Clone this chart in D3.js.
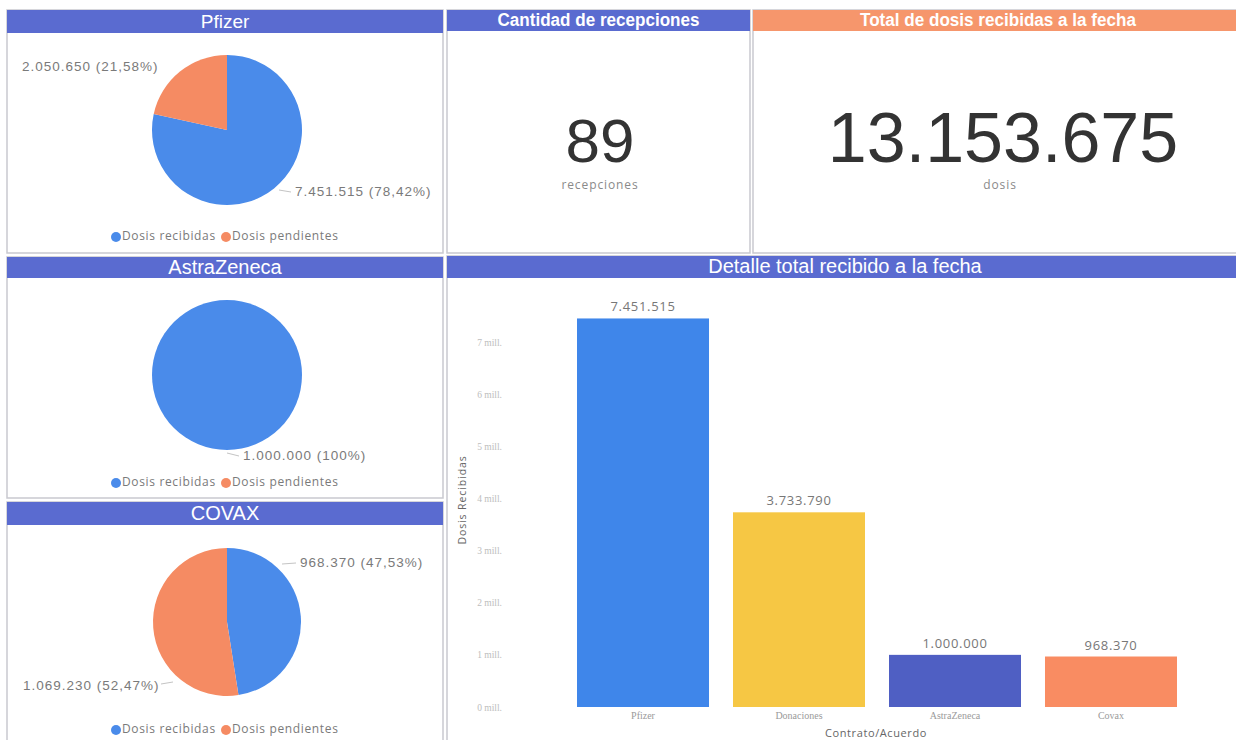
<!DOCTYPE html>
<html><head><meta charset="utf-8">
<script src="https://cdn.jsdelivr.net/npm/d3@7"></script>
<style>
html,body{margin:0;padding:0;background:#fff;}
svg{display:block;font-family:"Liberation Sans",Arial,sans-serif;}
</style></head>
<body><svg id="c" width="1236" height="740"></svg>
<script>
// ---- data ----
const pieCategories = ["Dosis recibidas", "Dosis pendientes"];
const pfizerValues = [7451515, 2050650];
const astraValues = [1000000, 0];
const covaxValues = [968370, 1069230];
const pfizerLabels = ["7.451.515 (78,42%)", "2.050.650 (21,58%)"];
const astraLabels = ["1.000.000 (100%)", ""];
const covaxLabels = ["968.370 (47,53%)", "1.069.230 (52,47%)"];
const recepciones = 89;
const totalDosis = 13153675;
const barCategories = ["Pfizer", "Donaciones", "AstraZeneca", "Covax"];
const barValues = [7451515, 3733790, 1000000, 968370];
const barLabels = ["7.451.515", "3.733.790", "1.000.000", "968.370"];
const yTicks = [0, 1000000, 2000000, 3000000, 4000000, 5000000, 6000000, 7000000];

const svg = d3.select("#c");
const BLUE_H = "#5a6bd0", ORANGE_H = "#f6966c";
const pieColor = d3.scaleOrdinal().domain(pieCategories).range(["#4a8bea", "#f58b63"]);
const barColor = d3.scaleOrdinal().domain(barCategories).range(["#3f86ea", "#f6c744", "#4f5fc3", "#f98c62"]);
const fmt = d3.formatLocale({decimal: ",", thousands: ".", grouping: [3], currency: ["", ""]}).format(",d");

function panel(x, y, w, h, hh, title, col, opts) {
  opts = opts || {};
  const g = svg.append("g");
  g.append("rect").attr("x", x).attr("y", y).attr("width", w).attr("height", h)
    .attr("fill", "#fff").attr("stroke", "#c9c9cf").attr("stroke-width", 1.5);
  g.append("rect").attr("x", x).attr("y", y).attr("width", w).attr("height", hh).attr("fill", col);
  const t = g.append("text").attr("x", x + w / 2).attr("y", y + hh / 2 + 1).attr("text-anchor", "middle")
    .attr("dominant-baseline", "middle").attr("fill", "#fff")
    .style("font-size", opts.fs || "20px")
    .style("font-weight", opts.fw || "normal")
    .text(title);
  if (opts.len) t.attr("textLength", opts.len).attr("lengthAdjust", "spacingAndGlyphs");
  return g;
}

// panels
panel(7, 10, 436, 243, 23, "Pfizer", BLUE_H, {fs: "19px"});
panel(447, 10, 303, 243, 21, "Cantidad de recepciones", BLUE_H, {fs: "18px", fw: "bold", len: 202});
panel(753, 10, 490, 243, 21, "Total de dosis recibidas a la fecha", ORANGE_H, {fs: "18px", fw: "bold", len: 276});
panel(7, 257, 436, 241, 21, "AstraZeneca", BLUE_H);
panel(7, 502, 436, 245, 23, "COVAX", BLUE_H);
panel(447, 256, 796, 491, 22, "Detalle total recibido a la fecha", BLUE_H);

// cards
svg.append("text").attr("x", 600).attr("y", 162).attr("text-anchor", "middle")
  .attr("fill", "#333").style("font-size", "62px").text(recepciones);
svg.append("text").attr("x", 600).attr("y", 189).attr("text-anchor", "middle")
  .attr("fill", "#8a8a8a").style("font-size", "12px").style("letter-spacing", "0.9px")
  .style("font-family", "'Open Sans',sans-serif").text("recepciones");
svg.append("text").attr("x", 1003).attr("y", 162).attr("text-anchor", "middle")
  .attr("fill", "#333").style("font-size", "70px").text(fmt(totalDosis));
svg.append("text").attr("x", 1000).attr("y", 189).attr("text-anchor", "middle")
  .attr("fill", "#8a8a8a").style("font-size", "12px").style("letter-spacing", "0.9px")
  .style("font-family", "'Open Sans',sans-serif").text("dosis");

// pies
function drawPie(cx, cy, r, values, labels, labelPos, legendY) {
  const g = svg.append("g").attr("transform", `translate(${cx},${cy})`);
  const arcs = d3.pie().sort(null).value(d => d.v)(values.map((v, i) => ({v, c: pieCategories[i]})));
  g.selectAll("path").data(arcs).join("path")
    .attr("d", d3.arc().innerRadius(0).outerRadius(r))
    .attr("fill", d => pieColor(d.data.c));
  arcs.forEach((a, i) => {
    const p = labelPos[i];
    if (!labels[i] || !p) return;
    if (p.line) g.append("line").attr("x1", p.line[0]).attr("y1", p.line[1]).attr("x2", p.line[2]).attr("y2", p.line[3])
      .attr("stroke", "#c4c4c4").attr("stroke-width", 1);
    g.append("text").attr("x", p.x).attr("y", p.y).attr("text-anchor", "start")
      .attr("dominant-baseline", "middle").attr("fill", "#7a7a7a")
      .style("font-size", "13.5px").style("letter-spacing", "1px").text(labels[i]);
  });
  // legend
  const lg = svg.append("g").attr("transform", `translate(0,${legendY})`);
  const items = [{c: pieCategories[0], x: 116}, {c: pieCategories[1], x: 226}];
  items.forEach(it => {
    lg.append("circle").attr("cx", it.x).attr("cy", 0).attr("r", 5).attr("fill", pieColor(it.c));
    lg.append("text").attr("x", it.x + 6).attr("y", 0).attr("dominant-baseline", "middle")
      .attr("fill", "#7a7a7a").style("font-size", "12px").style("font-family", "'Open Sans',sans-serif")
      .style("letter-spacing", "0.65px").text(it.c);
  });
}
drawPie(227, 130, 75, pfizerValues, pfizerLabels,
  [{x: 68, y: 62, line: [52, 60, 64, 62]}, {x: -205, y: -63}], 237);
drawPie(227, 375, 75, astraValues, astraLabels,
  [{x: 16, y: 81, line: [0, 78, 12, 81]}, null], 483);
drawPie(227, 622, 74, covaxValues, covaxLabels,
  [{x: 73, y: -59, line: [55, -58, 69, -59]}, {x: -204, y: 64, line: [-66, 62, -54, 60]}], 730);

// bar chart
const x = d3.scaleBand().domain(barCategories).range([565, 1189]).paddingInner(24 / 156).paddingOuter(0.077);
const y = d3.scaleLinear().domain([0, 7000000]).range([707, 342]);
const yAxis = svg.append("g").attr("transform", "translate(505,0)")
  .call(d3.axisLeft(y).tickValues(yTicks).tickSize(0).tickFormat(d => (d / 1e6) + " mill."));
yAxis.select(".domain").remove();
yAxis.selectAll("text").attr("fill", "#bdbdbd").style("font-size", "9.5px")
  .style("font-family", "'Liberation Serif',serif");
const xAxis = svg.append("g").attr("transform", "translate(0,707)")
  .call(d3.axisBottom(x).tickSize(0).tickPadding(5));
xAxis.select(".domain").remove();
xAxis.selectAll("text").attr("fill", "#9a9a9a").style("font-size", "10px")
  .style("font-family", "'Liberation Serif',serif");

svg.append("g").selectAll("rect").data(barCategories).join("rect")
  .attr("x", d => x(d)).attr("width", x.bandwidth())
  .attr("y", (d, i) => y(barValues[i])).attr("height", (d, i) => y(0) - y(barValues[i]))
  .attr("fill", d => barColor(d));
svg.append("g").selectAll("text").data(barCategories).join("text")
  .attr("x", d => x(d) + x.bandwidth() / 2).attr("y", (d, i) => y(barValues[i]) - 7)
  .attr("text-anchor", "middle").attr("fill", "#777").style("font-size", "13px")
  .style("letter-spacing", "0.7px").style("font-family", "'Open Sans',sans-serif")
  .text((d, i) => barLabels[i]);

svg.append("text").attr("transform", "translate(466,500) rotate(-90)").attr("text-anchor", "middle")
  .attr("fill", "#666").style("font-size", "10.5px").style("font-family", "'Open Sans',sans-serif")
  .style("letter-spacing", "0.9px").text("Dosis Recibidas");
svg.append("text").attr("x", 876).attr("y", 737).attr("text-anchor", "middle")
  .attr("fill", "#666").style("font-size", "11px").style("font-family", "'Open Sans',sans-serif")
  .style("letter-spacing", "0.6px").text("Contrato/Acuerdo");
</script></body></html>
